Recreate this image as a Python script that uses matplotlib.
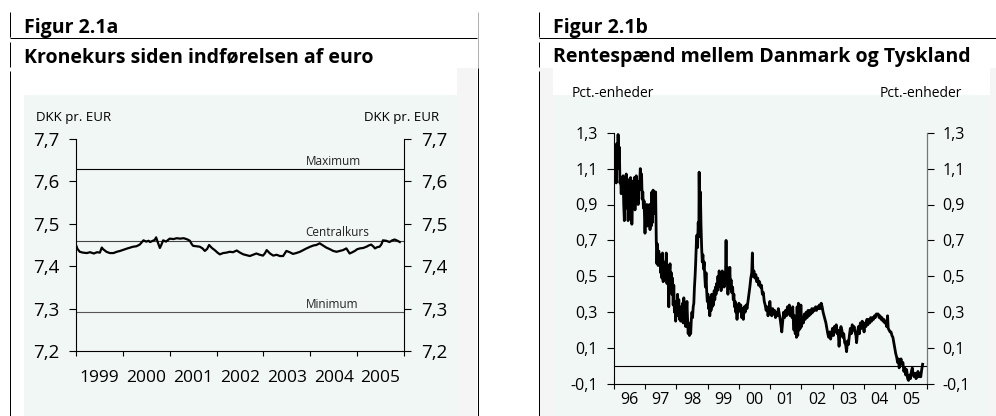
import matplotlib
matplotlib.use('Agg')
import numpy as np
import matplotlib.pyplot as plt
from matplotlib.lines import Line2D
from matplotlib.patches import Rectangle
from matplotlib.ticker import FixedLocator, FuncFormatter, NullFormatter

# ---------------- data ----------------
# Figur 2.1a: DKK per EUR (decimal year, rate)
kurs_dates = [
    1999.00, 1999.03, 1999.08, 1999.15, 1999.23, 1999.30, 1999.38, 1999.45, 1999.51, 1999.55,
    1999.58, 1999.65, 1999.72, 1999.80, 1999.87, 1999.94, 2000.02, 2000.10, 2000.16, 2000.22,
    2000.29, 2000.36, 2000.40, 2000.44, 2000.50, 2000.55, 2000.58, 2000.64, 2000.68, 2000.71,
    2000.75, 2000.79, 2000.82, 2000.86, 2000.92, 2001.00, 2001.08, 2001.15, 2001.22, 2001.30,
    2001.38, 2001.43, 2001.47, 2001.50, 2001.57, 2001.64, 2001.70, 2001.75, 2001.80, 2001.84,
    2001.90, 2001.96, 2002.02, 2002.07, 2002.14, 2002.21, 2002.28, 2002.35, 2002.43, 2002.50,
    2002.57, 2002.64, 2002.71, 2002.78, 2002.85, 2002.92, 2002.99, 2003.03, 2003.07, 2003.14,
    2003.21, 2003.28, 2003.35, 2003.42, 2003.49, 2003.56, 2003.63, 2003.70, 2003.78, 2003.85,
    2003.92, 2004.00, 2004.07, 2004.13, 2004.20, 2004.27, 2004.34, 2004.42, 2004.49, 2004.56,
    2004.63, 2004.70, 2004.77, 2004.84, 2004.90, 2004.95, 2005.00, 2005.06, 2005.13, 2005.20,
    2005.25, 2005.30, 2005.35, 2005.38, 2005.43, 2005.48, 2005.52, 2005.55, 2005.62, 2005.69,
    2005.75, 2005.80, 2005.86, 2005.91]
kurs_values = [
    7.450, 7.441, 7.434, 7.432, 7.431, 7.433, 7.430, 7.433, 7.432, 7.444,
    7.440, 7.434, 7.431, 7.431, 7.434, 7.436, 7.439, 7.442, 7.444, 7.446,
    7.447, 7.451, 7.456, 7.461, 7.458, 7.460, 7.457, 7.460, 7.462, 7.468,
    7.455, 7.443, 7.450, 7.461, 7.458, 7.465, 7.464, 7.466, 7.465, 7.466,
    7.463, 7.460, 7.452, 7.448, 7.447, 7.446, 7.442, 7.436, 7.441, 7.450,
    7.443, 7.438, 7.432, 7.428, 7.431, 7.432, 7.434, 7.433, 7.437, 7.432,
    7.428, 7.426, 7.424, 7.427, 7.430, 7.427, 7.425, 7.430, 7.438, 7.430,
    7.425, 7.427, 7.424, 7.424, 7.436, 7.433, 7.429, 7.431, 7.434, 7.438,
    7.442, 7.446, 7.449, 7.450, 7.454, 7.449, 7.444, 7.440, 7.436, 7.434,
    7.436, 7.438, 7.442, 7.430, 7.433, 7.436, 7.440, 7.442, 7.443, 7.446,
    7.449, 7.451, 7.446, 7.442, 7.445, 7.446, 7.452, 7.461, 7.460, 7.457,
    7.461, 7.463, 7.460, 7.457]

band_levels = [7.62824, 7.46038, 7.29252]
band_labels = ['Maximum', 'Centralkurs', 'Minimum']
band_colors = ['#000000', '#444444', '#555555']

kurs_year_labels = ['1999', '2000', '2001', '2002', '2003', '2004', '2005']
kurs_yticks = [7.2, 7.3, 7.4, 7.5, 7.6, 7.7]

# Figur 2.1b: interest rate spread DK-DE (decimal year, pct.-points)
spread_dates = [
    1996.00, 1996.02, 1996.04, 1996.06, 1996.08, 1996.10, 1996.12, 1996.14, 1996.16, 1996.18,
    1996.20, 1996.22, 1996.24, 1996.26, 1996.28, 1996.30, 1996.32, 1996.34, 1996.36, 1996.38,
    1996.40, 1996.42, 1996.44, 1996.46, 1996.48, 1996.50, 1996.52, 1996.54, 1996.56, 1996.58,
    1996.60, 1996.62, 1996.64, 1996.66, 1996.68, 1996.70, 1996.72, 1996.74, 1996.76, 1996.78,
    1996.80, 1996.82, 1996.85, 1996.87, 1996.89, 1996.91, 1996.93, 1996.95, 1996.97, 1997.00,
    1997.02, 1997.04, 1997.06, 1997.08, 1997.10, 1997.12, 1997.14, 1997.16, 1997.18, 1997.20,
    1997.22, 1997.24, 1997.26, 1997.28, 1997.30, 1997.32, 1997.34, 1997.36, 1997.38, 1997.40,
    1997.42, 1997.44, 1997.46, 1997.48, 1997.50, 1997.52, 1997.54, 1997.56, 1997.58, 1997.60,
    1997.62, 1997.64, 1997.66, 1997.68, 1997.70, 1997.72, 1997.74, 1997.76, 1997.78, 1997.80,
    1997.82, 1997.84, 1997.86, 1997.88, 1997.90, 1997.92, 1997.94, 1997.96, 1997.98, 1998.00,
    1998.02, 1998.04, 1998.06, 1998.08, 1998.10, 1998.12, 1998.14, 1998.16, 1998.18, 1998.20,
    1998.22, 1998.24, 1998.26, 1998.28, 1998.30, 1998.32, 1998.34, 1998.36, 1998.38, 1998.40,
    1998.42, 1998.44, 1998.46, 1998.48, 1998.50, 1998.52, 1998.54, 1998.56, 1998.58, 1998.60,
    1998.62, 1998.64, 1998.66, 1998.68, 1998.70, 1998.72, 1998.73, 1998.75, 1998.77, 1998.79,
    1998.81, 1998.83, 1998.85, 1998.87, 1998.89, 1998.91, 1998.93, 1998.95, 1998.97, 1998.99,
    1999.01, 1999.03, 1999.05, 1999.07, 1999.09, 1999.11, 1999.13, 1999.15, 1999.17, 1999.19,
    1999.21, 1999.23, 1999.25, 1999.27, 1999.29, 1999.31, 1999.33, 1999.35, 1999.37, 1999.39,
    1999.41, 1999.43, 1999.45, 1999.47, 1999.49, 1999.51, 1999.53, 1999.55, 1999.57, 1999.59,
    1999.61, 1999.63, 1999.65, 1999.67, 1999.69, 1999.71, 1999.73, 1999.75, 1999.77, 1999.80,
    1999.82, 1999.84, 1999.86, 1999.88, 1999.90, 1999.92, 1999.94, 1999.96, 1999.98, 2000.00,
    2000.03, 2000.06, 2000.09, 2000.12, 2000.14, 2000.17, 2000.20, 2000.23, 2000.26, 2000.29,
    2000.32, 2000.35, 2000.38, 2000.41, 2000.43, 2000.45, 2000.48, 2000.51, 2000.54, 2000.57,
    2000.60, 2000.63, 2000.66, 2000.69, 2000.72, 2000.75, 2000.78, 2000.81, 2000.84, 2000.87,
    2000.90, 2000.93, 2000.96, 2000.99, 2001.02, 2001.05, 2001.08, 2001.11, 2001.14, 2001.17,
    2001.20, 2001.23, 2001.26, 2001.29, 2001.32, 2001.35, 2001.37, 2001.40, 2001.43, 2001.46,
    2001.49, 2001.52, 2001.55, 2001.58, 2001.61, 2001.64, 2001.67, 2001.70, 2001.72, 2001.74,
    2001.76, 2001.78, 2001.80, 2001.82, 2001.84, 2001.86, 2001.88, 2001.90, 2001.92, 2001.94,
    2001.96, 2001.98, 2002.00, 2002.03, 2002.06, 2002.09, 2002.12, 2002.15, 2002.18, 2002.21,
    2002.24, 2002.27, 2002.30, 2002.33, 2002.36, 2002.39, 2002.42, 2002.45, 2002.48, 2002.51,
    2002.54, 2002.57, 2002.60, 2002.63, 2002.66, 2002.69, 2002.72, 2002.75, 2002.78, 2002.81,
    2002.84, 2002.87, 2002.90, 2002.93, 2002.96, 2002.99, 2003.02, 2003.05, 2003.08, 2003.11,
    2003.14, 2003.17, 2003.20, 2003.23, 2003.26, 2003.29, 2003.32, 2003.35, 2003.38, 2003.41,
    2003.44, 2003.47, 2003.50, 2003.53, 2003.56, 2003.59, 2003.62, 2003.65, 2003.68, 2003.71,
    2003.74, 2003.76, 2003.79, 2003.82, 2003.85, 2003.88, 2003.91, 2003.94, 2003.97, 2004.00,
    2004.03, 2004.06, 2004.09, 2004.12, 2004.15, 2004.18, 2004.21, 2004.24, 2004.27, 2004.30,
    2004.33, 2004.36, 2004.39, 2004.45, 2004.48, 2004.51, 2004.54, 2004.57, 2004.60, 2004.63,
    2004.66, 2004.69, 2004.72, 2004.75, 2004.77, 2004.80, 2004.83, 2004.86, 2004.89, 2004.92,
    2004.95, 2004.98, 2005.01, 2005.04, 2005.07, 2005.10, 2005.12, 2005.15, 2005.18, 2005.21,
    2005.24, 2005.27, 2005.30, 2005.33, 2005.36, 2005.39, 2005.42, 2005.45, 2005.48, 2005.51,
    2005.54, 2005.57, 2005.60, 2005.63, 2005.66, 2005.69, 2005.72, 2005.75, 2005.78, 2005.81,
    2005.84, 2005.87]
spread_values = [
    1.03, 1.18, 1.05, 1.22, 1.02, 1.24, 1.10, 1.29, 1.15, 1.22,
    1.02, 1.05, 0.96, 1.04, 0.98, 1.06, 0.90, 0.81, 1.00, 0.94,
    1.07, 0.88, 0.96, 0.81, 0.92, 1.04, 0.86, 1.05, 0.95, 0.79,
    0.90, 1.03, 0.92, 1.05, 0.87, 0.96, 1.06, 0.94, 1.03, 0.90,
    1.02, 0.98, 1.10, 1.04, 1.07, 0.93, 0.97, 0.88, 0.92, 0.74,
    0.86, 0.80, 0.90, 0.78, 0.85, 0.80, 0.90, 0.76, 0.82, 0.78,
    0.97, 0.80, 0.98, 0.85, 0.97, 0.88, 0.97, 0.70, 0.57, 0.68,
    0.56, 0.64, 0.58, 0.62, 0.52, 0.59, 0.49, 0.63, 0.47, 0.55,
    0.48, 0.58, 0.50, 0.63, 0.46, 0.56, 0.50, 0.33, 0.52, 0.57,
    0.44, 0.52, 0.40, 0.49, 0.34, 0.45, 0.30, 0.36, 0.25, 0.33,
    0.28, 0.40, 0.30, 0.37, 0.26, 0.33, 0.25, 0.31, 0.27, 0.35,
    0.24, 0.38, 0.27, 0.32, 0.22, 0.29, 0.36, 0.26, 0.18, 0.24,
    0.17, 0.22, 0.18, 0.26, 0.30, 0.27, 0.33, 0.35, 0.44, 0.50,
    0.58, 0.68, 0.73, 0.66, 0.80, 0.72, 1.08, 0.74, 0.97, 0.78,
    0.66, 0.58, 0.62, 0.54, 0.58, 0.50, 0.44, 0.52, 0.42, 0.36,
    0.40, 0.32, 0.38, 0.28, 0.36, 0.31, 0.40, 0.33, 0.38, 0.34,
    0.42, 0.37, 0.44, 0.40, 0.46, 0.42, 0.50, 0.44, 0.53, 0.46,
    0.50, 0.42, 0.48, 0.53, 0.45, 0.50, 0.44, 0.52, 0.48, 0.70,
    0.46, 0.55, 0.40, 0.54, 0.46, 0.55, 0.43, 0.48, 0.41, 0.44,
    0.37, 0.40, 0.33, 0.36, 0.30, 0.34, 0.26, 0.33, 0.30, 0.35,
    0.31, 0.34, 0.27, 0.32, 0.26, 0.33, 0.30, 0.34, 0.32, 0.36,
    0.40, 0.44, 0.49, 0.52, 0.63, 0.50, 0.53, 0.49, 0.51, 0.47,
    0.49, 0.45, 0.47, 0.44, 0.45, 0.40, 0.41, 0.36, 0.34, 0.31,
    0.33, 0.28, 0.31, 0.36, 0.29, 0.28, 0.32, 0.29, 0.31, 0.27,
    0.30, 0.28, 0.32, 0.29, 0.26, 0.22, 0.19, 0.25, 0.30, 0.27,
    0.31, 0.28, 0.33, 0.29, 0.34, 0.28, 0.32, 0.27, 0.33, 0.25,
    0.20, 0.28, 0.18, 0.24, 0.16, 0.33, 0.17, 0.35, 0.20, 0.28,
    0.21, 0.34, 0.22, 0.27, 0.24, 0.29, 0.26, 0.30, 0.27, 0.31,
    0.28, 0.31, 0.29, 0.32, 0.30, 0.32, 0.31, 0.33, 0.31, 0.33,
    0.32, 0.34, 0.32, 0.35, 0.33, 0.30, 0.28, 0.26, 0.24, 0.21,
    0.18, 0.16, 0.19, 0.15, 0.18, 0.21, 0.17, 0.22, 0.19, 0.23,
    0.18, 0.20, 0.11, 0.19, 0.22, 0.20, 0.16, 0.18, 0.13, 0.12,
    0.08, 0.14, 0.12, 0.17, 0.21, 0.18, 0.23, 0.20, 0.22, 0.19,
    0.17, 0.13, 0.19, 0.22, 0.18, 0.24, 0.21, 0.25, 0.22, 0.19,
    0.24, 0.22, 0.26, 0.23, 0.26, 0.24, 0.27, 0.25, 0.27, 0.26,
    0.28, 0.27, 0.29, 0.29, 0.27, 0.28, 0.26, 0.27, 0.25, 0.26,
    0.24, 0.25, 0.22, 0.28, 0.21, 0.20, 0.19, 0.19, 0.17, 0.16,
    0.13, 0.10, 0.07, 0.05, 0.02, 0.04, -0.01, 0.02, 0.04, 0.01,
    0.02, -0.03, -0.01, -0.05, -0.02, -0.07, -0.08, -0.05, -0.07, -0.03,
    -0.01, -0.05, -0.06, -0.04, -0.07, -0.06, -0.03, -0.06, -0.04, -0.06,
    -0.02, 0.01]

spread_year_labels = ['96', '97', '98', '99', '00', '01', '02', '03', '04', '05']
spread_yticks = [-0.1, 0.1, 0.3, 0.5, 0.7, 0.9, 1.1, 1.3]

# ---------------- figure ----------------
W, H = 996, 416
plt.rcParams['font.family'] = ['Open Sans', 'DejaVu Sans']
fig = plt.figure(figsize=(W / 100, H / 100), dpi=100)
fig.patch.set_facecolor('white')


def fx(x):
    return x / W


def fy(y):
    return 1 - y / H


def rect(x0, y0, x1, y1, c):
    fig.add_artist(Rectangle((fx(x0), fy(y1)), (x1 - x0) / W, (y1 - y0) / H,
                             transform=fig.transFigure, facecolor=c,
                             edgecolor='none', zorder=0))


def hline(x0, x1, y, c='black', lw=1.0):
    fig.add_artist(Line2D([fx(x0), fx(x1)], [fy(y), fy(y)], transform=fig.transFigure,
                          color=c, lw=lw * 0.72, solid_capstyle='butt'))


def vline(x, y0, y1, c='black', lw=1.0):
    fig.add_artist(Line2D([fx(x), fx(x)], [fy(y0), fy(y1)], transform=fig.transFigure,
                          color=c, lw=lw * 0.72, solid_capstyle='butt'))


MINT = '#f1f7f4'
GREY = '#f5f5f5'
# backgrounds
rect(457, 68, 477, 416, GREY)
rect(24, 95, 457, 416, MINT)
rect(539, 68, 553, 416, GREY)
rect(553, 95, 990, 416, MINT)
rect(990, 68, 996, 416, GREY)

# frame lines
hline(10, 477, 38)
hline(539, 996, 38)
for xv in (10, 539):
    vline(xv, 12, 37)
    vline(xv, 42, 67)
    vline(xv, 71, 416)
vline(477.5, 12, 68, c='#b0b0b0')
vline(477.5, 68, 416)

# titles
fig.text(fx(24), fy(33), 'Figur 2.1a', fontsize=14, fontweight='bold', va='baseline')
fig.text(fx(24), fy(62), 'Kronekurs siden indførelsen af euro', fontsize=14,
         fontweight='bold', va='baseline')
fig.text(fx(553), fy(33), 'Figur 2.1b', fontsize=14, fontweight='bold', va='baseline')
fig.text(fx(553), fy(62), 'Rentespænd mellem Danmark og Tyskland', fontsize=14,
         fontweight='bold', va='baseline')

# unit labels
fig.text(fx(36), fy(120.5), 'DKK pr. EUR', fontsize=9.5, va='baseline')
fig.text(fx(439), fy(120.5), 'DKK pr. EUR', fontsize=9.5, va='baseline', ha='right')
fig.text(fx(572), fy(97), 'Pct.-enheder', fontsize=10, va='baseline')
fig.text(fx(962), fy(97), 'Pct.-enheder', fontsize=10, va='baseline', ha='right')


def comma(v, pos=None):
    return f'{v:.1f}'.replace('.', ',')


# ---------------- left chart ----------------
ax1 = fig.add_axes([fx(76), fy(351), 328 / W, 212 / H])
ax1.set_facecolor('none')
ax1.set_xlim(1999, 2006)
ax1.set_ylim(7.2, 7.7)
for lvl, lab, col in zip(band_levels, band_labels, band_colors):
    ax1.axhline(lvl, color=col, lw=0.8, zorder=1)
    ax1.annotate(lab, xy=(2003.9, lvl), xytext=(0, 3), textcoords='offset points',
                 fontsize=8.5, va='baseline', ha='left', color='#222222')
ax1.plot(kurs_dates, kurs_values, color='black', lw=1.6, zorder=3)

ax1.spines['top'].set_visible(False)
for s in ('left', 'right', 'bottom'):
    ax1.spines[s].set_linewidth(0.8)
ax1.yaxis.set_major_locator(FixedLocator(kurs_yticks))
ax1.yaxis.set_major_formatter(FuncFormatter(comma))
ax1.tick_params(axis='y', which='major', direction='out', length=5, width=0.8,
                left=True, right=True, labelleft=True, labelright=True,
                labelsize=13.5, pad=7)
ax1.xaxis.set_major_locator(FixedLocator(np.arange(1999, 2007)))
ax1.xaxis.set_major_formatter(NullFormatter())
ax1.xaxis.set_minor_locator(FixedLocator(np.arange(1999, 2006) + 0.5))
ax1.xaxis.set_minor_formatter(FuncFormatter(
    lambda v, p: kurs_year_labels[int(v - 1999)] if 0 <= int(v - 1999) < len(kurs_year_labels) else ''))
ax1.tick_params(axis='x', which='major', direction='out', length=3.5, width=0.8)
ax1.tick_params(axis='x', which='minor', length=0, labelsize=12.5, pad=14)

# ---------------- right chart ----------------
ax2 = fig.add_axes([fx(613.7), fy(384), 313 / W, 251.3 / H])
ax2.set_facecolor('none')
ax2.set_xlim(1996, 2006)
ax2.set_ylim(-0.1, 1.3)
ax2.axhline(0, color='black', lw=0.8, zorder=1)
ax2.plot(spread_dates, spread_values, color='black', lw=2.0, zorder=3)

ax2.spines['top'].set_visible(False)
ax2.spines['left'].set_linewidth(0.8)
ax2.spines['bottom'].set_linewidth(0.8)
ax2.spines['right'].set_linewidth(0.9)
ax2.spines['right'].set_color('#777777')
ax2.yaxis.set_major_locator(FixedLocator(spread_yticks))
ax2.yaxis.set_major_formatter(FuncFormatter(comma))
ax2.tick_params(axis='y', which='major', direction='out', length=5, width=0.8,
                left=True, right=True, labelleft=True, labelright=True,
                labelsize=11.5, pad=6.5)
ax2.xaxis.set_major_locator(FixedLocator(np.arange(1996, 2007)))
ax2.xaxis.set_major_formatter(NullFormatter())
ax2.xaxis.set_minor_locator(FixedLocator(np.arange(1996, 2006) + 0.5))
ax2.xaxis.set_minor_formatter(FuncFormatter(
    lambda v, p: spread_year_labels[int(v - 1996)] if 0 <= int(v - 1996) < len(spread_year_labels) else ''))
ax2.tick_params(axis='x', which='major', direction='out', length=3.5, width=0.8)
ax2.tick_params(axis='x', which='minor', length=0, labelsize=11.5, pad=6)

fig.savefig('out.png', dpi=100, facecolor='white')
